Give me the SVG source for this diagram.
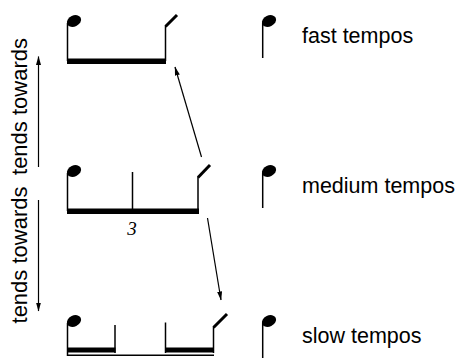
<svg xmlns="http://www.w3.org/2000/svg" width="459" height="358" viewBox="0 0 459 358">
  <defs>
    <marker id="arrow" markerWidth="9" markerHeight="5" refX="8.5" refY="2.5" orient="auto" markerUnits="userSpaceOnUse">
      <path d="M0,0 L9,2.5 L0,5 z" fill="#000"/>
    </marker>
    <!-- tilted filled note head -->
    <ellipse id="head" cx="0" cy="0" rx="7.4" ry="5.5" transform="rotate(-25)"/>
  </defs>
  <style>
    .stem { stroke: #000; stroke-width: 1.5; fill: none; }
    .flag { stroke: #000; stroke-width: 3; fill: none; }
    .beam { fill: #000; }
    .label { font-family: "Liberation Sans", Arial, sans-serif; font-size: 21.5px; fill: #000; }
    .side { font-size: 22px; }
    .tuplet { font-family: "Liberation Serif", "Times New Roman", serif; font-style: italic; font-size: 19px; fill: #000; }
    .conn { stroke: #000; stroke-width: 1.2; fill: none; marker-end: url(#arrow); }
  </style>
  <rect width="459" height="358" fill="#fff"/>

  <!-- fast: two-note figure -->
  <g id="figure-fast">
    <use href="#head" x="74" y="21"/>
    <line class="stem" x1="67.5" y1="23" x2="67.5" y2="61"/>
    <rect class="beam" x="67" y="58.5" width="99" height="5.5"/>
    <line class="stem" x1="165.5" y1="26" x2="165.5" y2="61"/>
    <line class="flag" x1="165.5" y1="26.5" x2="177" y2="15"/>
  </g>

  <!-- medium: triplet figure -->
  <g id="figure-medium">
    <use href="#head" x="74" y="171"/>
    <line class="stem" x1="67.5" y1="173" x2="67.5" y2="211"/>
    <rect class="beam" x="67" y="208.5" width="132" height="5.5"/>
    <line class="stem" x1="132.5" y1="172" x2="132.5" y2="210"/>
    <line class="stem" x1="198" y1="177" x2="198" y2="210"/>
    <line class="flag" x1="198" y1="177.5" x2="210" y2="165"/>
    <text class="tuplet" x="132" y="234.5" text-anchor="middle">3</text>
  </g>

  <!-- slow: four-note figure -->
  <g id="figure-slow">
    <use href="#head" x="74" y="321"/>
    <line class="stem" x1="67.5" y1="323" x2="67.5" y2="356"/>
    <rect class="beam" x="67" y="347.5" width="48.5" height="5"/>
    <line class="stem" x1="115" y1="325" x2="115" y2="353"/>
    <line class="stem" x1="165.5" y1="322.5" x2="165.5" y2="353"/>
    <rect class="beam" x="165" y="347.5" width="49" height="5"/>
    <line class="stem" x1="213.5" y1="327" x2="213.5" y2="353"/>
    <line class="flag" x1="213.5" y1="327.5" x2="227" y2="314"/>
    <line x1="67" y1="355.2" x2="214" y2="355.2" stroke="#000" stroke-width="1.5"/>
  </g>

  <!-- single-note legend entries -->
  <g id="legend-fast">
    <use href="#head" x="269" y="21"/>
    <line class="stem" x1="262.7" y1="23" x2="262.7" y2="58"/>
    <text class="label" x="302" y="43">fast tempos</text>
  </g>
  <g id="legend-medium">
    <use href="#head" x="269" y="171"/>
    <line class="stem" x1="262.7" y1="173" x2="262.7" y2="208"/>
    <text class="label" x="302" y="193">medium tempos</text>
  </g>
  <g id="legend-slow">
    <use href="#head" x="269" y="321"/>
    <line class="stem" x1="262.7" y1="323" x2="262.7" y2="358"/>
    <text class="label" x="302" y="343">slow tempos</text>
  </g>

  <!-- side labels -->
  <g id="side-up">
    <text class="label side" transform="translate(26.5,106.5) rotate(-90)" text-anchor="middle">tends towards</text>
  </g>
  <g id="side-down">
    <text class="label side" transform="translate(26.5,255) rotate(-90)" text-anchor="middle">tends towards</text>
  </g>

  <g id="connectors">
    <line class="conn" x1="38.5" y1="167" x2="38.5" y2="56.5"/>
    <line class="conn" x1="38.5" y1="200" x2="38.5" y2="311"/>
    <line class="conn" x1="201.5" y1="157" x2="175" y2="67"/>
    <line class="conn" x1="207.5" y1="218" x2="221" y2="300"/>
  </g>
</svg>
